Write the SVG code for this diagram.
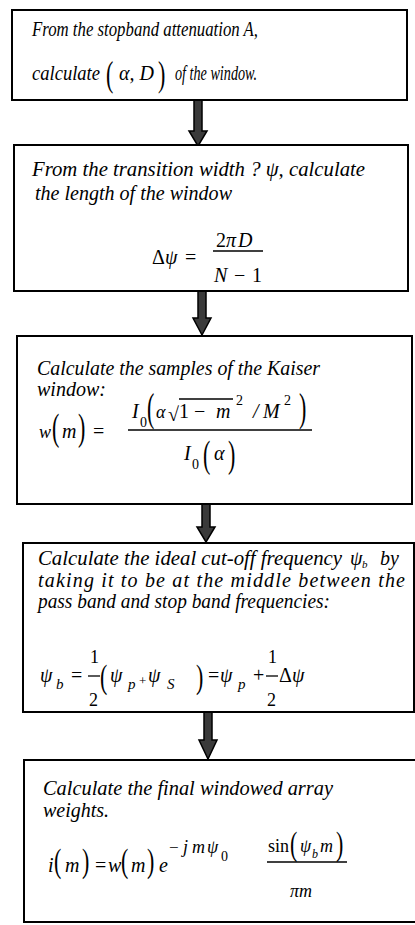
<svg xmlns="http://www.w3.org/2000/svg" width="415" height="925" viewBox="0 0 415 925">
<style>
.box{fill:#fff;stroke:#000;stroke-width:2}
.t{font-family:"Liberation Serif",serif;font-style:italic;font-size:20px;fill:#000}
.u{font-family:"Liberation Serif",serif;font-size:20px;fill:#000}
.su{font-family:"Liberation Serif",serif;font-size:13px;fill:#000}
.si{font-family:"Liberation Serif",serif;font-style:italic;font-size:15px;fill:#000}
.p{font-family:"Liberation Serif",serif;font-size:22px;fill:#000}
.fl{stroke:#000;stroke-width:1.3}
.arr{fill:#3a3a3a;stroke:#000;stroke-width:1.5}
</style>
<rect width="415" height="925" fill="#fff"/>
<g id="connectors">
<polygon class="arr" points="194,100 202,100 202,131 207,131 198,146 189,131 194,131"/>
<polygon class="arr" points="198,291 206,291 206,318 211,318 202,335 193,318 198,318"/>
<polygon class="arr" points="202,504 210,504 210,527 215,527 206,542 197,527 202,527"/>
<polygon class="arr" points="204,712 212,712 212,740 217,740 208,759 199,740 204,740"/>
</g>
<g id="node1">
<rect class="box" x="12" y="10" width="395" height="90"/>
<text class="t" x="32" y="36" textLength="226" lengthAdjust="spacingAndGlyphs">From the stopband attenuation A,</text>
<text class="t" x="32" y="80" textLength="68" lengthAdjust="spacingAndGlyphs">calculate</text>
<text class="p" transform="translate(106,85.8) scale(1,1.6)">(</text>
<text class="t" x="119" y="80">α, D</text>
<text class="p" transform="translate(158,85.8) scale(1,1.6)">)</text>
<text class="t" x="175" y="80" textLength="82" lengthAdjust="spacingAndGlyphs">of the window.</text>
</g>
<g id="node2">
<rect class="box" x="14" y="145" width="394" height="146"/>
<text class="t" x="32" y="176" textLength="333" lengthAdjust="spacingAndGlyphs">From the transition width ? ψ, calculate</text>
<text class="t" x="35" y="200" textLength="197" lengthAdjust="spacingAndGlyphs">the length of the window</text>
<text class="u" x="152" y="264">Δ</text>
<text class="t" x="165" y="264">ψ</text>
<text class="u" x="185" y="264">=</text>
<text class="u" x="216" y="247">2</text>
<text class="t" x="226" y="247">π</text>
<text class="t" x="238" y="247">D</text>
<line class="fl" x1="213" y1="251" x2="263" y2="251"/>
<text class="t" x="214" y="282">N</text>
<text class="u" x="234" y="282">−</text>
<text class="u" x="252" y="282">1</text>
</g>
<g id="node3">
<rect class="box" x="17" y="336" width="395" height="168"/>
<text class="t" x="37" y="375" textLength="283" lengthAdjust="spacingAndGlyphs">Calculate the samples of the Kaiser</text>
<text class="t" x="37" y="396">window:</text>
<text class="t" x="39" y="438" style="font-size:18px">w</text>
<text class="p" transform="translate(52,440.4) scale(1,1.7)">(</text>
<text class="t" x="62" y="438">m</text>
<text class="p" transform="translate(78,440.4) scale(1,1.7)">)</text>
<text class="u" x="93" y="438">=</text>
<line class="fl" x1="128" y1="430" x2="312" y2="430"/>
<text class="t" x="132" y="418">I</text>
<text class="su" x="140" y="427" style="font-size:14px">0</text>
<text class="p" transform="translate(147,420.7) scale(1,1.86)">(</text>
<text class="t" x="156" y="418" style="font-size:18px">α</text>
<text class="u" x="168" y="421">√</text>
<line class="fl" x1="179" y1="399" x2="233" y2="399"/>
<text class="u" x="179" y="418">1</text>
<text class="u" x="194" y="418">−</text>
<text class="t" x="216" y="418">m</text>
<text class="su" x="236" y="405" style="font-size:14px">2</text>
<text class="t" x="253" y="418">/</text>
<text class="t" x="263" y="418">M</text>
<text class="su" x="284" y="405" style="font-size:14px">2</text>
<text class="p" transform="translate(299,420.7) scale(1,1.86)">)</text>
<text class="t" x="184" y="460">I</text>
<text class="su" x="192" y="469" style="font-size:14px">0</text>
<text class="p" transform="translate(203,467) scale(1,1.76)">(</text>
<text class="t" x="214" y="460">α</text>
<text class="p" transform="translate(228,467) scale(1,1.76)">)</text>
</g>
<g id="node4">
<rect class="box" x="23" y="543" width="391" height="169"/>
<text class="t" x="38" y="565" textLength="304" lengthAdjust="spacingAndGlyphs">Calculate the ideal cut-off frequency</text>
<text class="t" x="350" y="565">ψ</text>
<text class="si" x="362" y="568" style="font-size:11px">b</text>
<text class="t" x="380" y="565">by</text>
<text class="t" x="38" y="587" textLength="367">taking it to be at the middle between the</text>
<text class="t" x="38" y="608" textLength="292" lengthAdjust="spacingAndGlyphs">pass band and stop band frequencies:</text>
<text class="t" x="40" y="682">ψ</text>
<text class="si" x="56" y="689">b</text>
<text class="u" x="71" y="682">=</text>
<text class="u" x="90" y="663" style="font-size:18px">1</text>
<line class="fl" x1="88" y1="676" x2="100" y2="676"/>
<text class="u" x="89" y="706" style="font-size:18px">2</text>
<text class="p" transform="translate(100,688) scale(1,1.55)">(</text>
<text class="t" x="110" y="682">ψ</text>
<text class="si" x="128" y="689">p</text>
<text class="su" x="139" y="685">+</text>
<text class="t" x="148" y="682">ψ</text>
<text class="si" x="167" y="689">S</text>
<text class="p" transform="translate(196,688) scale(1,1.55)">)</text>
<text class="u" x="208" y="682">=</text>
<text class="t" x="220" y="682">ψ</text>
<text class="si" x="238" y="689">p</text>
<text class="u" x="253" y="682">+</text>
<text class="u" x="268" y="663" style="font-size:18px">1</text>
<line class="fl" x1="266" y1="676" x2="278" y2="676"/>
<text class="u" x="267" y="706" style="font-size:18px">2</text>
<text class="u" x="279" y="682">Δ</text>
<text class="t" x="292" y="682">ψ</text>
</g>
<g id="node5">
<rect class="box" x="24" y="760" width="400" height="162"/>
<text class="t" x="43" y="795" textLength="290" lengthAdjust="spacingAndGlyphs">Calculate the final windowed array</text>
<text class="t" x="43" y="817">weights.</text>
<text class="t" x="48" y="872">i</text>
<text class="p" transform="translate(54,872) scale(1,1.49)">(</text>
<text class="t" x="65" y="872">m</text>
<text class="p" transform="translate(82,872) scale(1,1.49)">)</text>
<text class="u" x="95" y="872">=</text>
<text class="t" x="108" y="872">w</text>
<text class="p" transform="translate(121,872) scale(1,1.49)">(</text>
<text class="t" x="131" y="872">m</text>
<text class="p" transform="translate(147,872) scale(1,1.49)">)</text>
<text class="t" x="159" y="872">e</text>
<text class="u" x="169" y="853" style="font-size:17px">−</text>
<text class="t" x="183" y="853" style="font-size:18px" textLength="22">jm</text>
<text class="t" x="207" y="853" style="font-size:18px">ψ</text>
<text class="su" x="221" y="861" style="font-size:14px">0</text>
<text class="u" x="268" y="852" style="font-size:18px">sin</text>
<text class="p" transform="translate(290,855) scale(1,1.5)">(</text>
<text class="t" x="300" y="852" style="font-size:18px">ψ</text>
<text class="si" x="312" y="858" style="font-size:12px">b</text>
<text class="t" x="320" y="852" style="font-size:18px">m</text>
<text class="p" transform="translate(336,855) scale(1,1.5)">)</text>
<line class="fl" x1="267" y1="862" x2="347" y2="862"/>
<text class="t" x="290" y="897" style="font-size:18px">πm</text>
</g>
</svg>
